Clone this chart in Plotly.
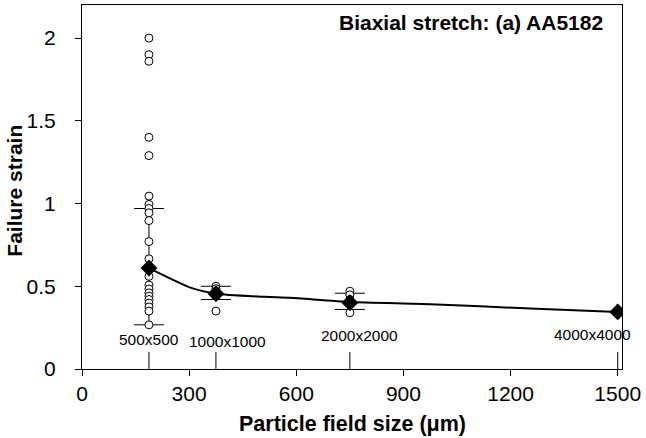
import plotly.graph_objects as go

# Particle field sizes (categories) and their x positions (um)
size_labels = ["500x500", "1000x1000", "2000x2000", "4000x4000"]
size_x = [187.5, 375, 750, 1500]

# Mean failure strain per field size
mean_strain = [0.61, 0.455, 0.40, 0.345]
err_plus = [0.36, 0.045, 0.058, 0]
err_minus = [0.343, 0.035, 0.04, 0]

# Individual samples
sample_x = ([187.5] * 22) + ([375] * 6) + ([750] * 4)
sample_y = [2.0, 1.90, 1.86, 1.40, 1.29, 1.045, 0.995, 0.97, 0.944, 0.897, 0.77, 0.666, 0.56,
            0.507, 0.483, 0.46, 0.44, 0.42, 0.398, 0.375, 0.35, 0.267,
            0.50, 0.485, 0.47, 0.455, 0.44, 0.35,
            0.47, 0.448, 0.42, 0.34]

# Trend line
trend_x = [187.5, 306, 375, 513, 583, 750, 975, 1256, 1500]
trend_y = [0.61, 0.49, 0.455, 0.436, 0.43, 0.405, 0.392, 0.365, 0.345]

x_ticks = [0, 300, 600, 900, 1200, 1500]
y_ticks = [0, 0.5, 1, 1.5, 2]
y_tick_text = ["0", "0.5", "1", "1.5", "2"]

FONT = "Liberation Sans, Arial, Helvetica, sans-serif"

fig = go.Figure()

# Error bars (drawn first, beneath markers)
fig.add_trace(go.Scatter(
    x=size_x[:3], y=mean_strain[:3], mode="markers",
    marker=dict(size=1, color="rgba(0,0,0,0)"),
    error_y=dict(type="data", symmetric=False, array=err_plus[:3], arrayminus=err_minus[:3],
                 color="black", thickness=1, width=15),
    hoverinfo="skip", showlegend=False))

# Sample points
fig.add_trace(go.Scatter(
    x=sample_x, y=sample_y, mode="markers",
    marker=dict(symbol="circle", size=8, color="white", line=dict(color="black", width=1)),
    showlegend=False))

# Trend line
fig.add_trace(go.Scatter(
    x=trend_x, y=trend_y, mode="lines",
    line=dict(color="black", width=2, shape="spline", smoothing=0.6),
    showlegend=False))

# Means
fig.add_trace(go.Scatter(
    x=size_x, y=mean_strain, mode="markers",
    marker=dict(symbol="diamond", size=13, color="black"),
    showlegend=False))

# Marker lines and labels for each field size
label_y = [0.176, 0.165, 0.20, 0.206]
label_shift = [0, 12, 10, -25]
for sx, lab, ly, xs in zip(size_x, size_labels, label_y, label_shift):
    fig.add_shape(type="line", x0=sx, x1=sx, y0=0, y1=0.103, xref="x", yref="y",
                  line=dict(color="black", width=1))
    fig.add_annotation(x=sx, y=ly, text=lab, showarrow=False, xshift=xs,
                       font=dict(family=FONT, size=15.5, color="black"))

fig.add_annotation(x=1, y=1, xref="paper", yref="paper", xanchor="right", yanchor="top",
                   xshift=-17, yshift=-4,
                   text="<b>Biaxial stretch: (a) AA5182</b>", showarrow=False,
                   font=dict(family=FONT, size=21, color="black"))

# Axis titles
fig.add_annotation(x=0, y=0.49, xref="paper", yref="paper", xanchor="center", yanchor="middle",
                   xshift=-67, textangle=-90, text="<b>Failure strain</b>", showarrow=False,
                   font=dict(family=FONT, size=21, color="black"))
fig.add_annotation(x=0.5, y=0, xref="paper", yref="paper", xanchor="center", yanchor="middle",
                   yshift=-55, text="<b>Particle field size (μm)</b>", showarrow=False,
                   font=dict(family=FONT, size=21.5, color="black"))

fig.update_layout(
    width=646, height=438,
    margin=dict(l=82, r=24, t=5, b=69, autoexpand=False),
    paper_bgcolor="white", plot_bgcolor="white",
    font=dict(family=FONT, size=21, color="black"),
    showlegend=False,
    xaxis=dict(range=[0, 1512], tickvals=x_ticks, ticks="outside", ticklen=6, tickcolor="black",
               showline=True, linecolor="black", linewidth=1, mirror=True, showgrid=False,
               zeroline=False, tickfont=dict(size=21), automargin=False),
    yaxis=dict(range=[0, 2.2], tickvals=y_ticks, ticktext=y_tick_text, ticks="outside", ticklen=6,
               tickcolor="black", showline=True, linecolor="black", linewidth=1, mirror=True,
               showgrid=False, zeroline=False, tickfont=dict(size=21), automargin=False,
               ticklabelstandoff=15),
)

fig.write_html("out.html", config={"displayModeBar": False},
               post_script="document.body.style.margin='0';")
